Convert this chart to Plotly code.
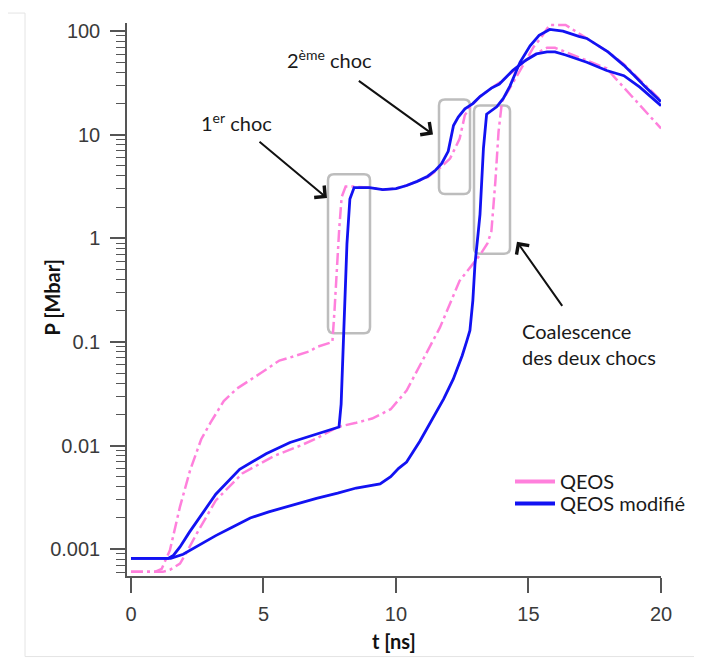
import plotly.graph_objects as go

# ---------------- data (t in ns, P in Mbar) ----------------
# QEOS (pink, dash-dot) – case with two separate shocks
t_qeos_2chocs = [0, 0.9, 1.16, 1.47, 1.85, 2.23, 2.65, 3.0, 3.5, 4.0, 4.9, 5.6, 6.0, 6.75, 7.0,
                 7.6, 7.68, 7.76, 7.86, 7.95, 8.1, 8.4, 9.0, 9.5, 10.0, 10.4, 10.8, 11.2, 11.66,
                 12.04, 12.4, 12.6, 12.8, 13.17, 13.6, 14.0, 14.5, 15.0, 15.4, 15.7, 16.0, 16.4,
                 17.2, 17.95, 18.3, 18.8, 19.46, 20.0]
p_qeos_2chocs = [0.000603, 0.000603, 0.000646, 0.000977, 0.00257, 0.00575, 0.0115, 0.0166, 0.0269,
                 0.0355, 0.0501, 0.0661, 0.0708, 0.0813, 0.0891, 0.1, 0.2, 0.501, 1.26, 2.51, 3.16,
                 3.16, 3.09, 2.95, 3.02, 3.24, 3.55, 3.89, 4.79, 5.89, 9.12, 15.5, 18.6, 23.4, 28.2,
                 33.1, 42.7, 55.0, 63.1, 69.2, 69.2, 63.1, 52.5, 43.7, 34.7, 25.1, 16.6, 11.5]

# QEOS (pink, dash-dot) – case with shock coalescence
t_qeos_coal = [0, 1.2, 1.47, 1.85, 2.1, 2.48, 3.2, 4.2, 5.4, 6.4, 7.0, 7.8, 8.5, 9.1, 9.8, 10.4,
               11.0, 11.66, 12.4, 13.17, 13.45, 13.6, 13.75, 13.87, 14.0, 14.43, 14.8, 15.2,
               15.45, 15.8, 16.4, 16.95, 17.5, 18.0, 18.6, 19.46, 20.0]
p_qeos_coal = [0.000603, 0.000603, 0.000631, 0.000724, 0.000933, 0.00141, 0.00295, 0.00537,
               0.00794, 0.01, 0.0117, 0.0151, 0.0166, 0.0182, 0.0224, 0.0339, 0.0661, 0.138,
               0.389, 0.692, 0.891, 1.17, 3.55, 10.7, 20.9, 32.4, 47.9, 70.8, 85.1, 115, 115,
               93.3, 75.9, 63.1, 47.9, 28.8, 21.4]

# QEOS modifié (blue) – case with two separate shocks
t_mod_2chocs = [0, 1.4, 1.6, 1.85, 2.2, 2.6, 3.2, 4.1, 5.1, 6.0, 7.0, 7.85, 7.93, 7.97, 8.02,
                8.08, 8.15, 8.26, 8.42, 9.0, 9.5, 10.0, 10.4, 10.8, 11.2, 11.5, 11.72, 11.97,
                12.17, 12.35, 12.6, 12.9, 13.17, 13.6, 13.9, 14.4, 14.9, 15.3, 15.7, 16.0, 16.4,
                17.2, 17.95, 18.6, 19.2, 20.0]
p_mod_2chocs = [0.000813, 0.000813, 0.00087, 0.00105, 0.00145, 0.00204, 0.00339, 0.00589,
                0.00832, 0.0107, 0.0129, 0.0151, 0.0251, 0.0501, 0.129, 0.398, 0.891, 2.40,
                3.09, 3.09, 2.95, 3.02, 3.24, 3.55, 3.98, 4.57, 5.25, 6.92, 12.3, 14.8, 17.8,
                20.0, 23.4, 28.2, 30.9, 41.7, 52.5, 60.3, 63.1, 63.1, 58.9, 50.1, 41.7, 37.2,
                28.8, 19.1]

# QEOS modifié (blue) – case with shock coalescence
t_mod_coal = [0, 1.5, 1.97, 2.5, 3.2, 3.8, 4.5, 5.2, 6.0, 7.0, 7.8, 8.5, 9.4, 9.8, 10.1, 10.4,
              10.9, 11.4, 11.8, 12.16, 12.5, 12.67, 12.79, 12.9, 12.98, 13.1, 13.17, 13.3, 13.42,
              13.8, 14.05, 14.3, 14.68, 15.06, 15.4, 15.8, 16.3, 16.9, 17.2, 18.0, 18.6, 19.0,
              19.46, 20.0]
p_mod_coal = [0.000813, 0.000813, 0.000891, 0.00107, 0.00135, 0.00162, 0.002, 0.00229, 0.00263,
              0.00309, 0.00347, 0.00389, 0.00427, 0.00501, 0.00603, 0.00692, 0.011, 0.0186,
              0.0282, 0.0437, 0.0741, 0.102, 0.129, 0.251, 0.562, 1.12, 1.70, 7.41, 15.8, 18.6,
              22.4, 29.5, 50.1, 72.4, 91.2, 104, 100, 89.1, 85.1, 63.1, 46.8, 37.2, 28.2, 20.9]

x_tick_vals = [0, 5, 10, 15, 20]
y_tick_vals = [0.001, 0.01, 0.1, 1, 10, 100]
y_tick_text = ["0.001", "0.01", "0.1", "1", "10", "100"]

# ---------------- layout geometry (page pixels) ----------------
W, H = 702, 660
OFF = 8                      # default body margin of the html page
L, R, T, B = 127, 661, 20, 576   # plot area on the page


def xp(px):
    return (px - L) / (R - L)


def yp(py):
    return (B - py) / (B - T)


PINK = "#ff80dc"
BLUE = "#1212f2"
DASH = "12px,4px,3px,4px"
TXT = "Lato"
TXTCOL = "#1a1a1a"

fig = go.Figure()
for tx, py_ in [(t_qeos_2chocs, p_qeos_2chocs), (t_qeos_coal, p_qeos_coal)]:
    fig.add_trace(go.Scatter(x=tx, y=py_, mode="lines", name="QEOS", showlegend=False,
                             line=dict(color=PINK, width=2.5, dash=DASH)))
for tx, py_ in [(t_mod_2chocs, p_mod_2chocs), (t_mod_coal, p_mod_coal)]:
    fig.add_trace(go.Scatter(x=tx, y=py_, mode="lines", name="QEOS modifié", showlegend=False,
                             line=dict(color=BLUE, width=2.8)))
# legend entries (solid samples as in the original)
fig.add_trace(go.Scatter(x=[None], y=[None], mode="lines", name="QEOS", legend="legend",
                         line=dict(color=PINK, width=4)))
fig.add_trace(go.Scatter(x=[None], y=[None], mode="lines", name="QEOS modifié", legend="legend2",
                         line=dict(color=BLUE, width=4)))


# rounded grey boxes
def rbox(x0, y0, x1, y1, r=6):
    X0, X1 = xp(x0), xp(x1)
    Yb, Yt = yp(y1), yp(y0)
    rx, ry = r / (R - L), r / (B - T)
    path = (f"M{X0+rx},{Yb} L{X1-rx},{Yb} Q{X1},{Yb} {X1},{Yb+ry} L{X1},{Yt-ry} "
            f"Q{X1},{Yt} {X1-rx},{Yt} L{X0+rx},{Yt} Q{X0},{Yt} {X0},{Yt-ry} "
            f"L{X0},{Yb+ry} Q{X0},{Yb} {X0+rx},{Yb} Z")
    return dict(type="path", path=path, xref="paper", yref="paper",
                line=dict(color="#bdbdbd", width=2.5), layer="below")


shapes = [rbox(328, 172, 370, 332), rbox(439, 97, 470, 192), rbox(474, 103, 510, 252)]
frame_col = "#e4e4e4"
shapes += [
    dict(type="line", xref="paper", yref="paper", x0=xp(25), x1=xp(25), y0=yp(10), y1=yp(657),
         line=dict(color=frame_col, width=1)),
    dict(type="line", xref="paper", yref="paper", x0=xp(8), x1=xp(25), y0=yp(10), y1=yp(10),
         line=dict(color=frame_col, width=1)),
    dict(type="line", xref="paper", yref="paper", x0=xp(25), x1=xp(702), y0=yp(657), y1=yp(657),
         line=dict(color=frame_col, width=1)),
]


def labelled_arrow(text, head, center, standoff, **kw):
    hx, hy = head
    cx, cy = center
    d = dict(x=xp(hx), y=yp(hy), xref="paper", yref="paper", ax=cx - hx, ay=cy - hy,
             axref="pixel", ayref="pixel", text=text, showarrow=True, arrowhead=4,
             arrowsize=1.5, arrowwidth=2, arrowcolor="#111111", startstandoff=standoff,
             font=dict(family=TXT, size=20, color=TXTCOL))
    d.update(kw)
    return d


ann = [
    labelled_arrow("1<sup>er</sup> choc", (327, 196), (236, 120), 8),
    labelled_arrow("2<sup>ème</sup> choc", (433, 132), (329, 57), 12),
    labelled_arrow("Coalescence<br>des deux chocs", (517, 240), (589, 342), 14, align="left"),
    dict(x=xp(52), y=yp(296), xref="paper", yref="paper", showarrow=False, textangle=-90,
         xanchor="center", yanchor="middle", text="<b>P [Mbar]</b>",
         font=dict(family=TXT, size=20, color="#111")),
    dict(x=xp(394), y=yp(641), xref="paper", yref="paper", showarrow=False,
         xanchor="center", yanchor="middle", text="<b>t [ns]</b>",
         font=dict(family=TXT, size=20, color="#111")),
]

minor_vals = [k * 10.0 ** e for e in range(-4, 3) for k in range(2, 10)]

leg_common = dict(xanchor="left", yanchor="middle", itemwidth=40,
                  font=dict(family=TXT, size=20, color=TXTCOL),
                  bgcolor="rgba(0,0,0,0)", borderwidth=0)

fig.update_layout(
    width=W, height=H,
    margin=dict(l=L - OFF, r=W - (R - OFF), t=T - OFF, b=H - (B - OFF), pad=0),
    paper_bgcolor="white", plot_bgcolor="white",
    font=dict(family="Liberation Sans", size=20, color="#3a3a3a"),
    shapes=shapes, annotations=ann,
    legend=dict(x=xp(510), y=yp(481), **leg_common),
    legend2=dict(x=xp(510), y=yp(503), **leg_common),
    xaxis=dict(range=[-0.15, 20], tickvals=x_tick_vals, ticks="outside", ticklen=15,
               tickwidth=1.5, tickcolor="#555", showline=True, linecolor="#555", linewidth=1.5,
               showgrid=False, zeroline=False, ticklabelstandoff=4),
    yaxis=dict(type="log", range=[-3.2596, 2.079], tickvals=y_tick_vals, ticktext=y_tick_text,
               ticks="outside", ticklen=15, tickwidth=1.5, tickcolor="#555", showline=True,
               linecolor="#555", linewidth=1.5, showgrid=False, zeroline=False,
               ticklabelstandoff=6,
               minor=dict(ticks="outside", ticklen=9, tickwidth=1.2, tickcolor="#555",
                          tickvals=minor_vals, showgrid=False)),
)

fig.write_html("out.html")
